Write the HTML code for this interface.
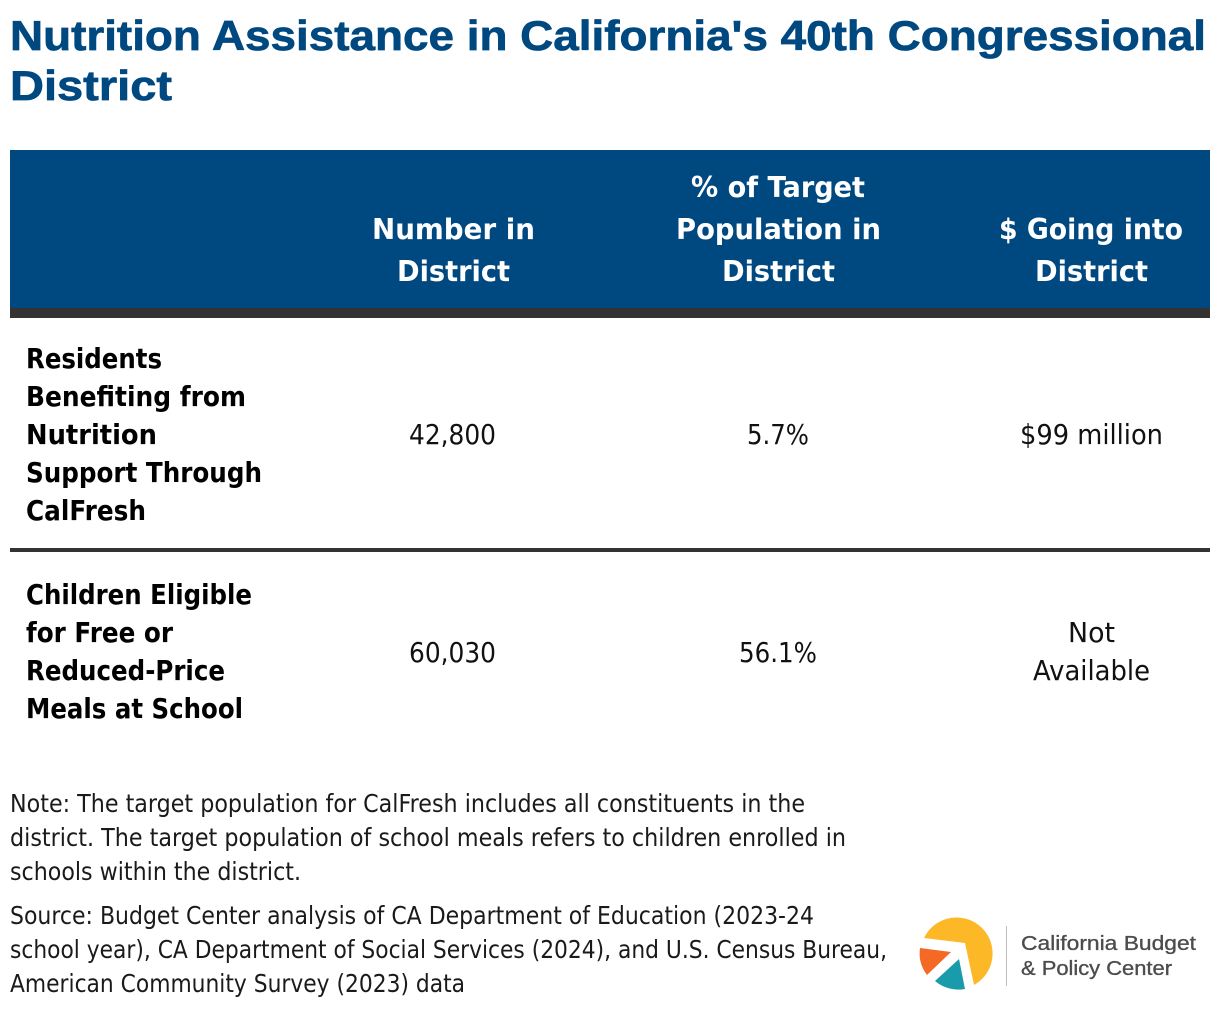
<!DOCTYPE html>
<html lang="en">
<head>
<meta charset="utf-8">
<title>Nutrition Assistance in California's 40th Congressional District</title>
<style>
html,body{margin:0;padding:0;background:#fff;width:1220px;height:1010px;overflow:hidden}
svg{display:block}
text{font-family:"DejaVu Sans","Liberation Sans",sans-serif}
.title{font-family:"Liberation Sans",sans-serif;font-size:42px;font-weight:700;fill:#004880;stroke:#004880;stroke-width:.7px}
.head{font-size:28.5px;font-weight:700;fill:#fff}
.row{font-size:27.5px;font-weight:700;fill:#000}
.val{font-size:27.5px;fill:#111}
.note{font-size:24.5px;fill:#1a1a1a}
.logo-text{font-family:"Liberation Sans",sans-serif;font-size:20px;fill:#4d4d4f;stroke:#4d4d4f;stroke-width:.35px}
</style>
</head>
<body>
<svg xmlns="http://www.w3.org/2000/svg" width="1220" height="1010" viewBox="0 0 1220 1010">
<rect width="1220" height="1010" fill="#fff"/>

<g>
<text class="title" x="10" y="50" textLength="1196" lengthAdjust="spacingAndGlyphs">Nutrition Assistance in California's 40th Congressional</text>
<text class="title" x="10" y="100" textLength="162" lengthAdjust="spacingAndGlyphs">District</text>
</g>

<rect x="10" y="150" width="1200" height="158" fill="#004880"/>
<rect x="10" y="308" width="1200" height="10" fill="#333333"/>

<g>
<text class="head" x="372" y="239" textLength="163" lengthAdjust="spacingAndGlyphs">Number in</text>
<text class="head" x="397" y="281" textLength="113" lengthAdjust="spacingAndGlyphs">District</text>
</g>
<g>
<text class="head" x="691" y="197" textLength="174" lengthAdjust="spacingAndGlyphs">% of Target</text>
<text class="head" x="676" y="239" textLength="205" lengthAdjust="spacingAndGlyphs">Population in</text>
<text class="head" x="722" y="281" textLength="113" lengthAdjust="spacingAndGlyphs">District</text>
</g>
<g>
<text class="head" x="999" y="239" textLength="184" lengthAdjust="spacingAndGlyphs">$ Going into</text>
<text class="head" x="1035" y="281" textLength="113" lengthAdjust="spacingAndGlyphs">District</text>
</g>

<g>
<text class="row" x="26" y="368" textLength="136" lengthAdjust="spacingAndGlyphs">Residents</text>
<text class="row" x="26" y="406" textLength="220" lengthAdjust="spacingAndGlyphs">Benefiting from</text>
<text class="row" x="26" y="444" textLength="131" lengthAdjust="spacingAndGlyphs">Nutrition</text>
<text class="row" x="26" y="482" textLength="236" lengthAdjust="spacingAndGlyphs">Support Through</text>
<text class="row" x="26" y="520" textLength="120" lengthAdjust="spacingAndGlyphs">CalFresh</text>
</g>
<text class="val" x="409" y="444" textLength="87" lengthAdjust="spacingAndGlyphs">42,800</text>
<text class="val" x="747" y="444" textLength="62" lengthAdjust="spacingAndGlyphs">5.7%</text>
<text class="val" x="1020" y="444" textLength="143" lengthAdjust="spacingAndGlyphs">$99 million</text>

<rect x="10" y="548" width="1200" height="4" fill="#333333"/>

<g>
<text class="row" x="26" y="604" textLength="226" lengthAdjust="spacingAndGlyphs">Children Eligible</text>
<text class="row" x="26" y="642" textLength="147" lengthAdjust="spacingAndGlyphs">for Free or</text>
<text class="row" x="26" y="680" textLength="199" lengthAdjust="spacingAndGlyphs">Reduced-Price</text>
<text class="row" x="26" y="718" textLength="217" lengthAdjust="spacingAndGlyphs">Meals at School</text>
</g>
<text class="val" x="409" y="662" textLength="87" lengthAdjust="spacingAndGlyphs">60,030</text>
<text class="val" x="739" y="662" textLength="78" lengthAdjust="spacingAndGlyphs">56.1%</text>
<g>
<text class="val" x="1068" y="642" textLength="47" lengthAdjust="spacingAndGlyphs">Not</text>
<text class="val" x="1033" y="680" textLength="117" lengthAdjust="spacingAndGlyphs">Available</text>
</g>

<g>
<text class="note" x="10" y="812" textLength="795" lengthAdjust="spacingAndGlyphs">Note: The target population for CalFresh includes all constituents in the</text>
<text class="note" x="10" y="846" textLength="836" lengthAdjust="spacingAndGlyphs">district. The target population of school meals refers to children enrolled in</text>
<text class="note" x="10" y="880" textLength="291" lengthAdjust="spacingAndGlyphs">schools within the district.</text>
</g>
<g>
<text class="note" x="10" y="924" textLength="804" lengthAdjust="spacingAndGlyphs">Source: Budget Center analysis of CA Department of Education (2023-24</text>
<text class="note" x="10" y="958" textLength="877" lengthAdjust="spacingAndGlyphs">school year), CA Department of Social Services (2024), and U.S. Census Bureau,</text>
<text class="note" x="10" y="992" textLength="455" lengthAdjust="spacingAndGlyphs">American Community Survey (2023) data</text>
</g>

<g>
<path d="M924 938 A36 36 0 0 1 956 917.5 A36 36 0 0 1 974 985 L965 943 Z" fill="#fdb827"/>
<path d="M920 948 L951 952 L927 975 A36 36 0 0 1 920 948 Z" fill="#f46a25"/>
<path d="M935 981 L959 959 L965 989 A36 36 0 0 1 935 981 Z" fill="#1a9bac"/>
<rect x="1006" y="926" width="1" height="60" fill="#bdbdbd"/>
<text class="logo-text" x="1021" y="950" textLength="175" lengthAdjust="spacingAndGlyphs">California Budget</text>
<text class="logo-text" x="1021" y="975" textLength="151" lengthAdjust="spacingAndGlyphs">&amp; Policy Center</text>
</g>
</svg>
</body>
</html>
